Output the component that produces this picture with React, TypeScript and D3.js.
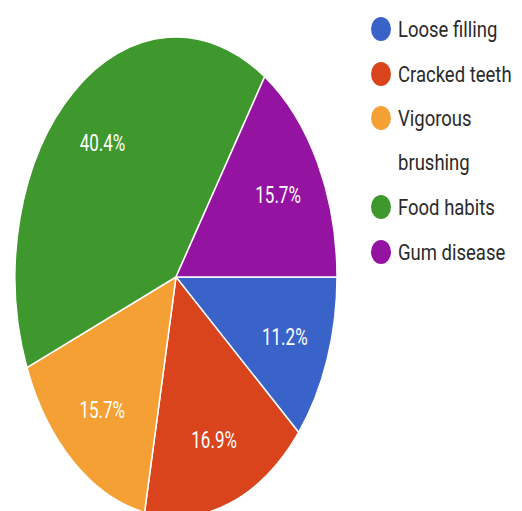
import { useEffect, useRef } from 'react';
import * as d3 from 'd3';

const categories = ['Loose filling', 'Cracked teeth', 'Vigorous brushing', 'Food habits', 'Gum disease'];
const values = [11.2, 16.9, 15.7, 40.4, 15.7];
const legendLines = [['Loose filling'], ['Cracked teeth'], ['Vigorous', 'brushing'], ['Food habits'], ['Gum disease']];
const colors = ['#3a63c9', '#d9441d', '#f5a035', '#3f982d', '#9413a0'];

const W = 522;
const H = 511;

export default function App() {
  const svgRef = useRef<SVGSVGElement>(null);

  useEffect(() => {
    if (!svgRef.current) return;
    const svg = d3.select(svgRef.current);
    svg.selectAll('*').remove();

    const cx = 176;
    const cy = 277;
    const rx = 161;
    const ry = 240;
    const sy = ry / rx;

    const pie = d3
      .pie<number>()
      .value((d) => d)
      .sort(null)
      .startAngle(Math.PI / 2)
      .endAngle(Math.PI / 2 + 2 * Math.PI);
    const arcs = pie(values);

    const arc = d3.arc<d3.PieArcDatum<number>>().innerRadius(0).outerRadius(rx);
    const labelArc = d3.arc<d3.PieArcDatum<number>>().innerRadius(rx * 0.72).outerRadius(rx * 0.72);

    // pie is stretched vertically, so draw a circle and scale it
    const g = svg.append('g').attr('transform', `translate(${cx},${cy}) scale(1,${sy})`);
    g.selectAll('path')
      .data(arcs)
      .enter()
      .append('path')
      .attr('d', (d) => arc(d) ?? '')
      .attr('fill', (_, i) => colors[i])
      .attr('stroke', '#ffffff')
      .attr('stroke-width', 1.5)
      .attr('vector-effect', 'non-scaling-stroke');

    // slice labels
    svg
      .selectAll('text.lbl')
      .data(arcs)
      .enter()
      .append('text')
      .attr('class', 'lbl')
      .attr('transform', (d) => {
        const [x, y] = labelArc.centroid(d);
        return `translate(${cx + x},${cy + y * sy}) scale(1,1.4)`;
      })
      .attr('text-anchor', 'middle')
      .attr('dominant-baseline', 'central')
      .attr('font-family', 'Roboto, Arial, sans-serif')
      .attr('font-size', 17)
      .attr('fill', '#ffffff')
      .text((d) => `${d.data.toFixed(1)}%`);

    // legend
    const rowY = [29, 74, 118, 207, 252];
    const legend = svg.append('g');
    categories.forEach((c, i) => {
      const row = legend.append('g').attr('transform', `translate(0,${rowY[i]})`);
      row.append('ellipse').attr('cx', 381).attr('cy', 0).attr('rx', 10).attr('ry', 12).attr('fill', colors[i]);
      legendLines[i].forEach((line, j) => {
        row
          .append('text')
          .attr('transform', `translate(398,${j * 44}) scale(1,1.2)`)
          .attr('dominant-baseline', 'central')
          .attr('font-family', 'Roboto, Arial, sans-serif')
          .attr('font-size', 18.5)
          .attr('fill', '#2a2a2a')
          .text(line);
      });
    });
  }, []);

  return (
    <svg
      ref={svgRef}
      width={W}
      height={H}
      style={{ position: 'absolute', left: 0, top: 0, background: '#ffffff' }}
    />
  );
}
